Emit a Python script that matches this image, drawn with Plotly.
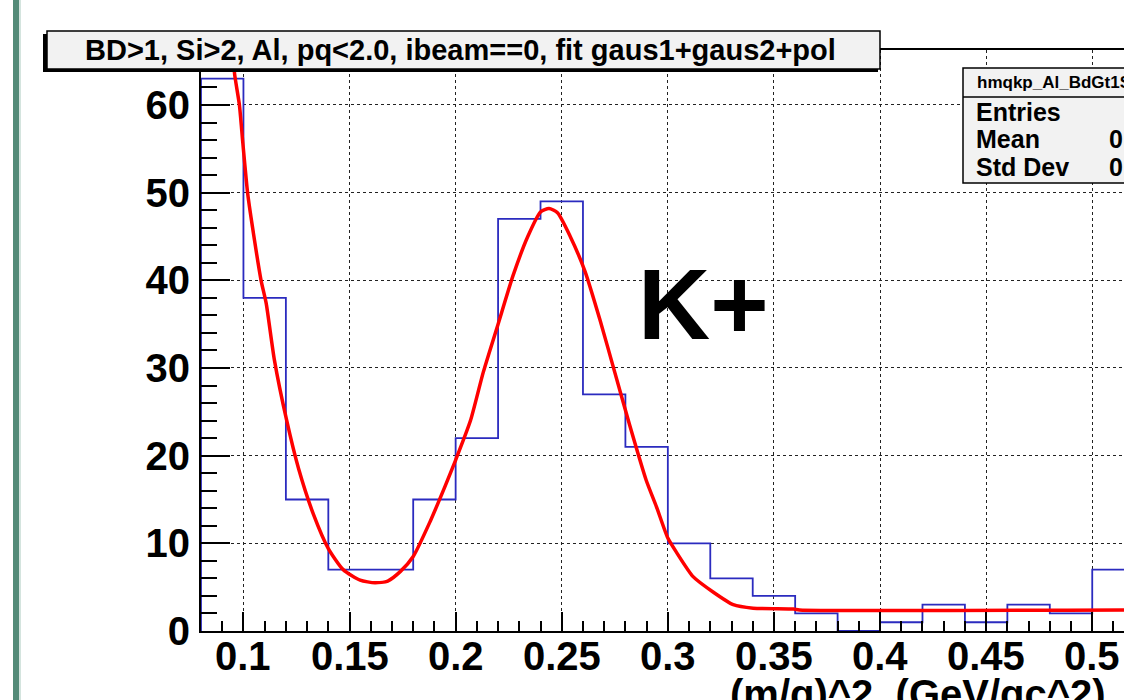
import plotly.graph_objects as go

# ---------------- data ----------------
bin_edges = [0.08, 0.10, 0.12, 0.14, 0.16, 0.18, 0.20, 0.22, 0.24, 0.26, 0.28, 0.30,
             0.32, 0.34, 0.36, 0.38, 0.40, 0.42, 0.44, 0.46, 0.48, 0.50, 0.52]
counts = [63, 38, 15, 7, 7, 15, 22, 47, 49, 27, 21, 10, 6, 4, 2, 0, 1, 3, 1, 3, 2, 7]

fit_x = [0.0950, 0.0958, 0.0981, 0.0997, 0.1020, 0.1052, 0.1083, 0.1107, 0.1146, 0.1203,
         0.126, 0.133, 0.140, 0.147, 0.155, 0.162, 0.168, 0.174, 0.180, 0.188, 0.195,
         0.200, 0.207, 0.213, 0.220, 0.227, 0.234, 0.240, 0.244, 0.248, 0.254, 0.261,
         0.268, 0.275, 0.282, 0.2898, 0.2946, 0.300, 0.304, 0.3119, 0.3213, 0.3308,
         0.3402, 0.3592, 0.362, 0.52]
fit_y = [67.0, 63.6, 60.0, 55.7, 49.9, 44.6, 40.0, 37.4, 30.9, 24.1,
         18.5, 13.3, 9.4, 7.0, 5.8, 5.5, 5.7, 6.8, 8.5, 12.5, 16.5,
         19.5, 24.0, 29.5, 35.0, 40.5, 45.0, 47.8, 48.2, 47.7, 45.0, 41.0,
         35.5, 29.5, 23.5, 17.2, 14.2, 10.6, 9.0, 6.2, 4.45, 3.0,
         2.6, 2.5, 2.4, 2.4]

x_ticks = [0.1, 0.15, 0.2, 0.25, 0.3, 0.35, 0.4, 0.45, 0.5]
x_tick_labels = ["0.1", "0.15", "0.2", "0.25", "0.3", "0.35", "0.4", "0.45", "0.5"]
y_ticks = [0, 10, 20, 30, 40, 50, 60]
y_tick_labels = ["0", "10", "20", "30", "40", "50", "60"]

title_text = "BD>1, Si>2, Al, pq<2.0, ibeam==0, fit gaus1+gaus2+pol"
x_title = "(m/q)^2, (GeV/qc^2)"
stats_name = "hmqkp_Al_BdGt1Si2"
stats_labels = ["Entries", "Mean", "Std Dev"]
stats_values = ["", "0.", "0."]
peak_label = "K+"

# ---------------- layout geometry (pixels) ----------------
W, H = 1124, 700
L, R, T, B = 201, 1124, 50, 631
FAM = "Liberation Sans, Arial, sans-serif"


def px(x):
    return (x - L) / (R - L)


def py(y):
    return (B - y) / (B - T)


def bold(s):
    return dict(family=FAM, size=s, color="black", weight="bold")


# histogram outline as step line
hx = [bin_edges[0]]
hy = [0]
for i, c in enumerate(counts):
    hx += [bin_edges[i], bin_edges[i + 1]]
    hy += [c, c]

fig = go.Figure()
fig.add_trace(go.Scatter(x=hx, y=hy, mode="lines",
                         line=dict(color="#2b2bbf", width=1.8),
                         hoverinfo="skip", showlegend=False))
fig.add_trace(go.Scatter(x=fit_x, y=fit_y, mode="lines",
                         line=dict(color="#ff0000", width=3.5, shape="spline", smoothing=0.6),
                         hoverinfo="skip", showlegend=False))

fig.update_xaxes(range=[0.08, 0.08 + (R - L) / 2122.0],
                 tickmode="array", tickvals=x_ticks, ticktext=x_tick_labels,
                 showticklabels=False,
                 ticks="inside", ticklen=19, tickwidth=1.5, tickcolor="black",
                 minor=dict(dtick=0.01, tick0=0, ticks="inside", ticklen=10,
                            tickwidth=1.5, tickcolor="black", showgrid=False),
                 showgrid=True, gridcolor="#222222", griddash="dot", gridwidth=1.2,
                 showline=True, linecolor="black", linewidth=2, mirror=True,
                 zeroline=False)
fig.update_yaxes(range=[0, (B - T) / 8.767],
                 tickmode="array", tickvals=y_ticks, ticktext=y_tick_labels,
                 ticks="inside", ticklen=29, tickwidth=1.5, tickcolor="black",
                 minor=dict(dtick=2, tick0=0, ticks="inside", ticklen=16,
                            tickwidth=1.5, tickcolor="black", showgrid=False),
                 showgrid=True, gridcolor="#222222", griddash="dot", gridwidth=1.2,
                 showline=True, linecolor="black", linewidth=2, mirror=False,
                 zeroline=False, tickfont=bold(40), ticklabelstandoff=1)

shapes = []
# left green bar
shapes.append(dict(type="rect", xref="paper", yref="paper",
                   x0=px(13), x1=px(19), y0=py(0), y1=py(700),
                   fillcolor="#548b78", line=dict(width=0), layer="above"))
shapes.append(dict(type="rect", xref="paper", yref="paper",
                   x0=px(19), x1=px(21), y0=py(0), y1=py(700),
                   fillcolor="#d4e4de", line=dict(width=0), layer="above"))
# title box shadow + box
shapes.append(dict(type="rect", xref="paper", yref="paper",
                   x0=px(43), x1=px(878), y0=py(72), y1=py(34),
                   fillcolor="black", line=dict(width=0), layer="above"))
shapes.append(dict(type="rect", xref="paper", yref="paper",
                   x0=px(47), x1=px(880), y0=py(69), y1=py(31),
                   fillcolor="#f2f2f2", line=dict(color="black", width=1.5), layer="above"))
# stats box
shapes.append(dict(type="rect", xref="paper", yref="paper",
                   x0=px(963), x1=px(1140), y0=py(183), y1=py(68),
                   fillcolor="#f2f2f2", line=dict(color="black", width=1.5), layer="above"))
shapes.append(dict(type="line", xref="paper", yref="paper",
                   x0=px(963), x1=px(1140), y0=py(97), y1=py(97),
                   line=dict(color="black", width=1.5), layer="above"))

ann = []
ann.append(dict(text=title_text, xref="paper", yref="paper", x=px(460), y=py(50),
                xanchor="center", yanchor="middle", showarrow=False, font=bold(29)))
ann.append(dict(text=stats_name, xref="paper", yref="paper", x=px(975), y=py(82),
                xanchor="left", yanchor="middle", showarrow=False, font=bold(17)))
for lab, val, yy in zip(stats_labels, stats_values, [112, 139, 167]):
    ann.append(dict(text=lab, xref="paper", yref="paper", x=px(974), y=py(yy),
                    xanchor="left", yanchor="middle", showarrow=False, font=bold(25)))
    if val:
        ann.append(dict(text=val, xref="paper", yref="paper", x=px(1107), y=py(yy),
                        xanchor="left", yanchor="middle", showarrow=False, font=bold(25)))
ann.append(dict(text=peak_label, xref="paper", yref="paper", x=px(703), y=py(304),
                xanchor="center", yanchor="middle", showarrow=False, font=bold(100)))
# x tick labels
for v, t in zip(x_ticks, x_tick_labels):
    ann.append(dict(text=t, xref="x", yref="paper", x=v, y=py(632),
                    xanchor="center", yanchor="top", showarrow=False, font=bold(40)))
ann.append(dict(text=x_title, xref="paper", yref="paper", x=px(728), y=py(670),
                xanchor="left", yanchor="top", showarrow=False, font=bold(40)))

fig.update_layout(width=W, height=H,
                  margin=dict(l=L, r=W - R, t=T, b=H - B, pad=0),
                  paper_bgcolor="white", plot_bgcolor="white",
                  shapes=shapes, annotations=ann, showlegend=False)

fig.write_html("out.html")
